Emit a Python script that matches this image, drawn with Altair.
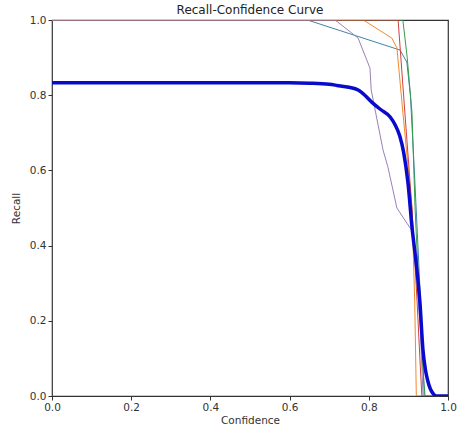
import altair as alt
import pandas as pd

# per-class curves (confidence, recall)
c0_conf = [0.0, 0.645, 0.879, 0.896, 0.905, 0.915, 0.925, 0.935, 0.940, 1.0]
c0_rec  = [1.0, 1.0,   0.92,  0.888, 0.80,  0.60,  0.38,  0.15,  0.0,   0.0]

c1_conf = [0.0, 0.786, 0.858, 0.871, 0.886, 0.909, 0.916, 0.920, 1.0]
c1_rec  = [1.0, 1.0,   0.952, 0.926, 0.755, 0.50,  0.25,  0.0,   0.0]

c2_conf = [0.0, 0.886, 0.897, 0.909, 0.917, 0.928, 0.936, 0.942, 1.0]
c2_rec  = [1.0, 1.0,   0.90,  0.755, 0.495, 0.25,  0.08,  0.0,   0.0]

c3_conf = [0.0, 0.874, 0.891, 0.909, 0.922, 0.930, 0.934, 1.0]
c3_rec  = [1.0, 1.0,   0.755, 0.50,  0.25,  0.08,  0.0,   0.0]

c4_conf = [0.0, 0.715, 0.773, 0.803, 0.806, 0.836, 0.848, 0.871, 0.896, 0.909, 0.920, 0.930, 0.937, 1.0]
c4_rec  = [1.0, 1.0,   0.952, 0.872, 0.814, 0.654, 0.61,  0.50,  0.46,  0.44,  0.33,  0.18,  0.0,   0.0]

# all classes
all_conf = [0.0, 0.60, 0.65, 0.70, 0.72, 0.75, 0.773, 0.79, 0.808, 0.83, 0.854, 0.866, 0.878, 0.888, 0.899,
            0.909, 0.920, 0.929, 0.937, 0.943, 0.949, 0.955, 0.962, 0.970, 1.0]
all_rec  = [0.833, 0.833, 0.832, 0.829, 0.826, 0.821, 0.814, 0.800, 0.781, 0.762, 0.742, 0.722, 0.692, 0.648, 0.566,
            0.45, 0.35, 0.25, 0.12, 0.07, 0.04, 0.02, 0.007, 0.0, 0.0]

class_names = ["c0", "c1", "c2", "c3", "c4"]
class_colors = ["#3f84a8", "#f08a2c", "#3a9a4a", "#cf4040", "#9a80b8"]

rows = []
for name, cs, rs in zip(class_names, [c0_conf, c1_conf, c2_conf, c3_conf, c4_conf],
                        [c0_rec, c1_rec, c2_rec, c3_rec, c4_rec]):
    for i, (c, r) in enumerate(zip(cs, rs)):
        rows.append({"cls": name, "i": i, "conf": c, "rec": r})
thin_df = pd.DataFrame(rows)
all_df = pd.DataFrame({"i": range(len(all_conf)), "conf": all_conf, "rec": all_rec})

xs = alt.X("conf:Q", scale=alt.Scale(domain=[0, 1], nice=False, zero=False),
           axis=alt.Axis(title="Confidence", values=[0, 0.2, 0.4, 0.6, 0.8, 1.0], format=".1f",
                         grid=False, tickSize=4, labelPadding=2, titlePadding=3,
                         labelFontSize=10.5, titleFontSize=10.5, domain=False,
                         tickColor="#333", labelColor="#333", titleColor="#333",
                         labelFont="DejaVu Sans", titleFont="DejaVu Sans", titleFontWeight="normal",
                         labelFlush=False))
ys = alt.Y("rec:Q", scale=alt.Scale(domain=[0, 1], nice=False, zero=False),
           axis=alt.Axis(title="Recall", values=[0, 0.2, 0.4, 0.6, 0.8, 1.0], format=".1f",
                         grid=False, tickSize=4, labelPadding=2, titlePadding=8,
                         labelFontSize=10.5, titleFontSize=10.5, domain=False,
                         tickColor="#333", labelColor="#333", titleColor="#333",
                         labelFont="DejaVu Sans", titleFont="DejaVu Sans", titleFontWeight="normal",
                         labelFlush=False))

thin = alt.Chart(thin_df).mark_line(strokeWidth=1, clip=True).encode(
    x=xs, y=ys,
    color=alt.Color("cls:N", scale=alt.Scale(domain=class_names, range=class_colors), legend=None),
    order="i:Q",
)
thick = alt.Chart(all_df).mark_line(strokeWidth=3.5, color="#0a0acc", clip=True,
                                    interpolate="monotone").encode(
    x=xs, y=ys, order="i:Q"
)

chart = alt.layer(thin, thick).properties(
    width=396, height=376,
    title=alt.TitleParams("Recall-Confidence Curve", fontSize=12, font="DejaVu Sans",
                          fontWeight="normal", color="#222", offset=-2),
    autosize=alt.AutoSizeParams(type="none"),
    padding={"left": 52, "top": 20, "right": 11, "bottom": 36},
).configure_view(stroke="#333", strokeWidth=1.2)

chart.save("out.html", embed_options={"renderer": "svg", "actions": False})
